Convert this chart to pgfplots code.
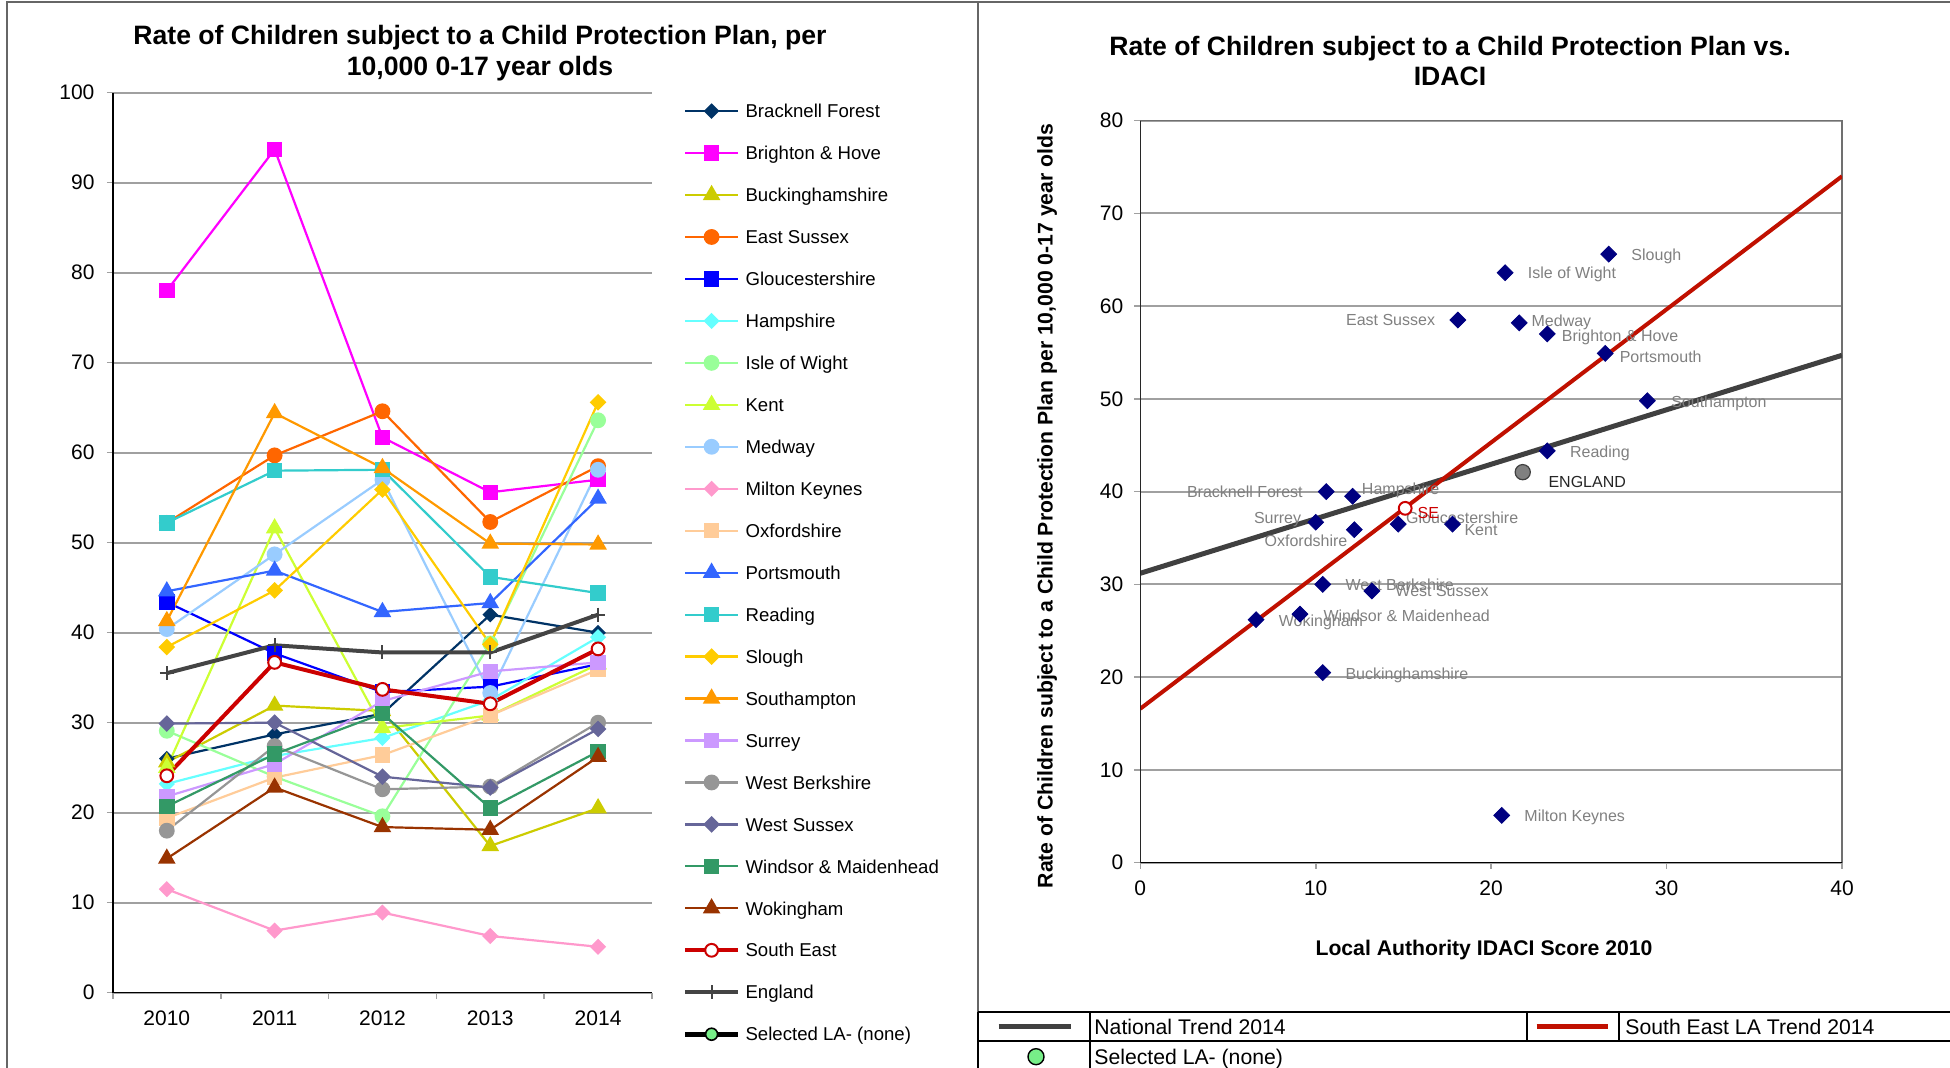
\documentclass[border=0pt]{standalone}
\usepackage{pgfplots}
\pgfplotsset{compat=1.18}
\usepackage{fontspec}
\setmainfont{Liberation Sans}
\definecolor{cBF}{HTML}{003366}
\definecolor{cBH}{HTML}{FF00FF}
\definecolor{cBU}{HTML}{CCCC00}
\definecolor{cES}{HTML}{FF6600}
\definecolor{cGL}{HTML}{0000FF}
\definecolor{cHA}{HTML}{66FFFF}
\definecolor{cIW}{HTML}{99FF99}
\definecolor{cKE}{HTML}{CCFF33}
\definecolor{cME}{HTML}{99CCFF}
\definecolor{cMK}{HTML}{FF99CC}
\definecolor{cOX}{HTML}{FFCC99}
\definecolor{cPO}{HTML}{3366FF}
\definecolor{cRE}{HTML}{33CCCC}
\definecolor{cSL}{HTML}{FFCC00}
\definecolor{cSO}{HTML}{FF9900}
\definecolor{cSU}{HTML}{CC99FF}
\definecolor{cWB}{HTML}{969696}
\definecolor{cWS}{HTML}{666699}
\definecolor{cWM}{HTML}{339966}
\definecolor{cWO}{HTML}{993300}
\definecolor{cSE}{HTML}{CC0000}
\definecolor{cEN}{HTML}{444444}
\definecolor{selgreen}{HTML}{77EE88}
\definecolor{gridgray}{HTML}{A0A0A0}
\definecolor{framegray}{HTML}{666666}
\definecolor{boxgray}{HTML}{707070}
\definecolor{navy}{HTML}{000080}
\definecolor{labgray}{HTML}{808080}
\definecolor{natgray}{HTML}{404040}
\definecolor{trendred}{HTML}{C01000}

\tikzset{lab/.style={inner sep=0pt, text height=5.7pt, text depth=0pt, font=\fontsize{8}{9}\selectfont, text=labgray}}

\begin{document}
\begin{tikzpicture}[x=1pt,y=1pt]
% ---------------- left chart
\begin{axis}[
  at={(56.45pt,37.65pt)}, anchor=south west,
  scale only axis, width=269.55pt, height=450pt,
  xmin=-0.5, xmax=4.5, ymin=0, ymax=100,
  ytick={0,10,...,100},
  xtick={-0.5,0.5,1.5,2.5,3.5,4.5}, xticklabels={},
  extra x ticks={0,1,2,3,4},
  extra x tick labels={2010,2011,2012,2013,2014},
  extra x tick style={major tick length=0pt, grid=none},
  tick align=outside, major tick length=3pt,
  tick style={gridgray, line width=0.8pt},
  axis lines*=left, axis line style={-, black, line width=0.8pt},
  ymajorgrids, grid style={gridgray, line width=1pt},
  /pgf/number format/assume math mode=true,
  tick label style={font=\fontsize{10.5}{12}\selectfont},
  yticklabel style={xshift=-2.7pt},
  xticklabel style={yshift=-5.5pt},
  legend cell align=left,
  legend style={
    at={(axis description cs:1.056,1.0033)}, anchor=north west,
    draw=none, fill=none, inner xsep=0pt, inner ysep=0pt,
    row sep=0pt, column sep=2.5pt,
    font=\fontsize{9.3}{11}\selectfont,
    nodes={inner sep=0pt, text height=6.66pt, text depth=0pt, minimum height=20.98pt},
  },
  legend image code/.code={\draw[mark repeat=2,mark phase=2] plot coordinates {(0pt,0pt) (13.25pt,0pt) (26.5pt,0pt)};},
]
\addplot[cBF, line width=1.1pt, mark=square*, mark size=2.2pt, mark options={rotate=45, solid}] coordinates {(0,26.0) (1,28.7) (2,31.0) (3,42.0) (4,40.0)};
\addlegendentry{Bracknell Forest}
\addplot[cBH, line width=1.1pt, mark=square*, mark size=3.3pt, mark options={solid}] coordinates {(0,78.0) (1,93.7) (2,61.7) (3,55.6) (4,57.0)};
\addlegendentry{Brighton \& Hove}
\addplot[cBU, line width=1.1pt, mark=triangle*, mark size=4pt, mark options={solid}] coordinates {(0,25.6) (1,31.9) (2,31.3) (3,16.3) (4,20.5)};
\addlegendentry{Buckinghamshire}
\addplot[cES, line width=1.1pt, mark=*, mark size=3.4pt, mark options={solid}] coordinates {(0,52.2) (1,59.7) (2,64.6) (3,52.3) (4,58.5)};
\addlegendentry{East Sussex}
\addplot[cGL, line width=1.1pt, mark=square*, mark size=3.3pt, mark options={solid}] coordinates {(0,43.4) (1,37.7) (2,33.4) (3,34.0) (4,36.5)};
\addlegendentry{Gloucestershire}
\addplot[cHA, line width=1.1pt, mark=square*, mark size=2.3pt, mark options={rotate=45, solid}] coordinates {(0,23.2) (1,26.3) (2,28.3) (3,32.5) (4,39.5)};
\addlegendentry{Hampshire}
\addplot[cIW, line width=1.1pt, mark=*, mark size=3.4pt, mark options={solid}] coordinates {(0,29.1) (1,24.0) (2,19.6) (3,38.8) (4,63.6)};
\addlegendentry{Isle of Wight}
\addplot[cKE, line width=1.1pt, mark=triangle*, mark size=4pt, mark options={solid}] coordinates {(0,25.0) (1,51.6) (2,29.4) (3,30.8) (4,36.5)};
\addlegendentry{Kent}
\addplot[cME, line width=1.1pt, mark=*, mark size=3.4pt, mark options={solid}] coordinates {(0,40.4) (1,48.7) (2,57.0) (3,33.3) (4,58.1)};
\addlegendentry{Medway}
\addplot[cMK, line width=1.1pt, mark=square*, mark size=2.3pt, mark options={rotate=45, solid}] coordinates {(0,11.5) (1,6.9) (2,8.9) (3,6.3) (4,5.1)};
\addlegendentry{Milton Keynes}
\addplot[cOX, line width=1.1pt, mark=square*, mark size=3.3pt, mark options={solid}] coordinates {(0,19.4) (1,23.9) (2,26.4) (3,30.8) (4,35.9)};
\addlegendentry{Oxfordshire}
\addplot[cPO, line width=1.1pt, mark=triangle*, mark size=4pt, mark options={solid}] coordinates {(0,44.6) (1,46.9) (2,42.3) (3,43.3) (4,54.9)};
\addlegendentry{Portsmouth}
\addplot[cRE, line width=1.1pt, mark=square*, mark size=3.3pt, mark options={solid}] coordinates {(0,52.2) (1,58.0) (2,58.1) (3,46.2) (4,44.4)};
\addlegendentry{Reading}
\addplot[cSL, line width=1.1pt, mark=square*, mark size=2.4pt, mark options={rotate=45, solid}] coordinates {(0,38.4) (1,44.7) (2,55.9) (3,38.7) (4,65.6)};
\addlegendentry{Slough}
\addplot[cSO, line width=1.1pt, mark=triangle*, mark size=4pt, mark options={solid}] coordinates {(0,41.3) (1,64.4) (2,58.3) (3,49.9) (4,49.8)};
\addlegendentry{Southampton}
\addplot[cSU, line width=1.1pt, mark=square*, mark size=3.3pt, mark options={solid}] coordinates {(0,21.8) (1,25.4) (2,32.4) (3,35.7) (4,36.7)};
\addlegendentry{Surrey}
\addplot[cWB, line width=1.1pt, mark=*, mark size=3.4pt, mark options={solid}] coordinates {(0,18.0) (1,27.4) (2,22.6) (3,22.9) (4,30.0)};
\addlegendentry{West Berkshire}
\addplot[cWS, line width=1.1pt, mark=square*, mark size=2.4pt, mark options={rotate=45, solid}] coordinates {(0,29.9) (1,30.0) (2,24.0) (3,22.8) (4,29.3)};
\addlegendentry{West Sussex}
\addplot[cWM, line width=1.1pt, mark=square*, mark size=3.3pt, mark options={solid}] coordinates {(0,20.7) (1,26.5) (2,31.0) (3,20.5) (4,26.8)};
\addlegendentry{Windsor \& Maidenhead}
\addplot[cWO, line width=1.1pt, mark=triangle*, mark size=4pt, mark options={solid}] coordinates {(0,14.9) (1,22.8) (2,18.4) (3,18.1) (4,26.2)};
\addlegendentry{Wokingham}
\addplot[cSE, line width=2pt, mark=*, mark size=3.2pt, mark options={solid, fill=white, draw=cSE, line width=1pt}] coordinates {(0,24.1) (1,36.7) (2,33.7) (3,32.1) (4,38.2)};
\addlegendentry{South East}
\addplot[cEN, line width=2pt, mark=+, mark size=3.5pt, mark options={solid, line width=1pt}] coordinates {(0,35.5) (1,38.6) (2,37.8) (3,37.8) (4,42.0)};
\addlegendentry{England}
\addlegendimage{black, line width=2.5pt, mark=*, mark size=3pt, mark options={fill=selgreen, draw=black, line width=0.8pt}}
\addlegendentry{Selected LA- (none)}
\end{axis}

% ---------------- right chart
\begin{axis}[
  at={(570.15pt,102.65pt)}, anchor=south west,
  scale only axis, width=350.85pt, height=371.05pt,
  xmin=0, xmax=40, ymin=0, ymax=80,
  xtick={0,10,...,40}, ytick={0,10,...,80},
  tick align=outside, major tick length=3pt, tick pos=left,
  tick style={gridgray, line width=0.8pt},
  axis line style={boxgray, line width=0.8pt},
  ymajorgrids, grid style={gridgray, line width=1pt},
  /pgf/number format/assume math mode=true,
  tick label style={font=\fontsize{10.5}{12}\selectfont},
  yticklabel style={xshift=-2pt},
  xticklabel style={yshift=-2.4pt},
]
\addplot[natgray, line width=2.5pt] coordinates {(0,31.2) (40,54.7)};
\addplot[trendred, line width=2pt] coordinates {(0,16.6) (40,74.0)};
\addplot[only marks, mark=square*, mark size=2.8pt, mark options={rotate=45, fill=navy, draw=navy}] table[row sep=\\] {
x y \\
26.7 65.6 \\ 20.8 63.6 \\ 18.1 58.5 \\ 21.6 58.2 \\ 23.2 57.0 \\
26.5 54.9 \\ 28.9 49.8 \\ 23.2 44.4 \\ 10.6 40.0 \\ 12.1 39.5 \\
10.0 36.7 \\ 12.2 35.9 \\ 14.7 36.5 \\ 17.8 36.5 \\ 10.4 30.0 \\
13.2 29.3 \\ 6.6 26.2 \\ 9.1 26.8 \\ 10.4 20.5 \\ 20.6 5.1 \\
};
\addplot[only marks, mark=*, mark size=3.8pt, mark options={fill=labgray, draw=natgray, line width=0.6pt}] coordinates {(21.8,42.1)};
\addplot[only marks, mark=*, mark size=3.2pt, mark options={fill=white, draw=cSE, line width=1pt}] coordinates {(15.1,38.2)};
% point labels
\node[lab, anchor=west, xshift=11.2pt, yshift=-0.5pt] at (axis cs:26.7,65.6) {Slough};
\node[lab, anchor=west, xshift=11.2pt] at (axis cs:20.8,63.6) {Isle of Wight};
\node[lab, anchor=east, xshift=-11.2pt] at (axis cs:18.1,58.5) {East Sussex};
\node[lab, anchor=west, xshift=6pt, yshift=0.8pt] at (axis cs:21.6,58.2) {Medway};
\node[lab, anchor=west, xshift=7.1pt, yshift=-0.8pt] at (axis cs:23.2,57.0) {Brighton \& Hove};
\node[lab, anchor=west, xshift=7.1pt, yshift=-1.7pt] at (axis cs:26.5,54.9) {Portsmouth};
\node[lab, anchor=west, xshift=11.8pt, yshift=-0.5pt] at (axis cs:28.9,49.8) {Southampton};
\node[lab, anchor=west, xshift=11.2pt, yshift=-0.5pt] at (axis cs:23.2,44.4) {Reading};
\node[lab, anchor=east, xshift=-11.6pt, yshift=-0.3pt] at (axis cs:10.6,40.0) {Bracknell Forest};
\node[lab, anchor=west, xshift=4.5pt, yshift=3.7pt] at (axis cs:12.1,39.5) {Hampshire};
\node[lab, anchor=east, xshift=-7.1pt, yshift=2pt] at (axis cs:10.0,36.7) {Surrey};
\node[lab, anchor=east, xshift=-3.3pt, yshift=-5.7pt] at (axis cs:12.2,35.9) {Oxfordshire};
\node[lab, anchor=west, xshift=3.8pt, yshift=3.3pt] at (axis cs:14.7,36.5) {Gloucestershire};
\node[lab, anchor=west, xshift=5.8pt, yshift=-3pt] at (axis cs:17.8,36.5) {Kent};
\node[lab, anchor=west, xshift=11.2pt] at (axis cs:10.4,30.0) {West Berkshire};
\node[lab, anchor=west, xshift=11.6pt] at (axis cs:13.2,29.3) {West Sussex};
\node[lab, anchor=west, xshift=11.2pt, yshift=-0.7pt] at (axis cs:6.6,26.2) {Wokingham};
\node[lab, anchor=west, xshift=11.6pt, yshift=-0.8pt] at (axis cs:9.1,26.8) {Windsor \& Maidenhead};
\node[lab, anchor=west, xshift=11.2pt, yshift=-0.5pt] at (axis cs:10.4,20.5) {Buckinghamshire};
\node[lab, anchor=west, xshift=11.2pt] at (axis cs:20.6,5.1) {Milton Keynes};
\node[lab, anchor=west, xshift=12.7pt, yshift=-4.7pt, text=black!85] at (axis cs:21.8,42.1) {ENGLAND};
\node[lab, anchor=west, xshift=6pt, yshift=-2pt, text=cSE] at (axis cs:15.1,38.2) {SE};
\draw[black, line width=0.8pt] (rel axis cs:0,1) -- (rel axis cs:0,0) -- (rel axis cs:1,0);
\end{axis}

% panel frames
\draw[framegray, line width=1pt] (3.5pt,0pt) -- (3.5pt,533pt) -- (975pt,533pt);
\draw[framegray, line width=1pt] (489pt,533pt) -- (489pt,28pt);

% titles
\node[anchor=base, font=\fontsize{13.3}{16}\bfseries\selectfont] at (240pt,511.7pt) {Rate of Children subject to a Child Protection Plan, per};
\node[anchor=base, font=\fontsize{13.3}{16}\bfseries\selectfont] at (240pt,496.2pt) {10,000 0-17 year olds};
\node[anchor=base, font=\fontsize{13.3}{16}\bfseries\selectfont] at (725pt,506.2pt) {Rate of Children subject to a Child Protection Plan vs.};
\node[anchor=base, font=\fontsize{13.3}{16}\bfseries\selectfont] at (725pt,491.2pt) {IDACI};
\node[anchor=base, font=\fontsize{10.6}{12}\bfseries\selectfont] at (742pt,56.2pt) {Local Authority IDACI Score 2010};
\node[rotate=90, font=\fontsize{10.6}{12}\bfseries\selectfont, text height=7.6pt, text depth=0pt, inner sep=0pt] at (522.5pt,281pt) {Rate of Children subject to a Child Protection Plan per 10,000 0-17 year olds};

% ---------------- bottom legend table of the right chart
\draw[black, line width=1.3pt] (489pt,28pt) -- (975pt,28pt);
\draw[black, line width=1.3pt] (489pt,13.5pt) -- (975pt,13.5pt);
\draw[black, line width=1.3pt] (489pt,28pt) -- (489pt,0pt);
\draw[black, line width=1.3pt] (545pt,28pt) -- (545pt,0pt);
\draw[black, line width=1.3pt] (763.5pt,28pt) -- (763.5pt,13.5pt);
\draw[black, line width=1.3pt] (809.5pt,28pt) -- (809.5pt,13.5pt);
\draw[natgray, line width=2.5pt] (499.3pt,20.65pt) -- (535.5pt,20.65pt);
\draw[trendred, line width=2.2pt] (768.3pt,20.65pt) -- (803.9pt,20.65pt);
\node[circle, draw=black, fill=selgreen, line width=0.7pt, minimum width=7.5pt, minimum height=8pt, inner sep=0pt] at (518pt,5.65pt) {};
\node[anchor=west, inner sep=0pt, text height=7.6pt, text depth=0pt, font=\fontsize{10.6}{12}\selectfont] at (547pt,20.65pt) {National Trend 2014};
\node[anchor=west, inner sep=0pt, text height=7.6pt, text depth=0pt, font=\fontsize{10.6}{12}\selectfont] at (812.5pt,20.65pt) {South East LA Trend 2014};
\node[anchor=west, inner sep=0pt, text height=7.6pt, text depth=0pt, font=\fontsize{10.6}{12}\selectfont] at (547pt,5.65pt) {Selected LA- (none)};

\pgfresetboundingbox
\path[use as bounding box] (0pt,0pt) rectangle (975pt,534pt);
\end{tikzpicture}
\end{document}
